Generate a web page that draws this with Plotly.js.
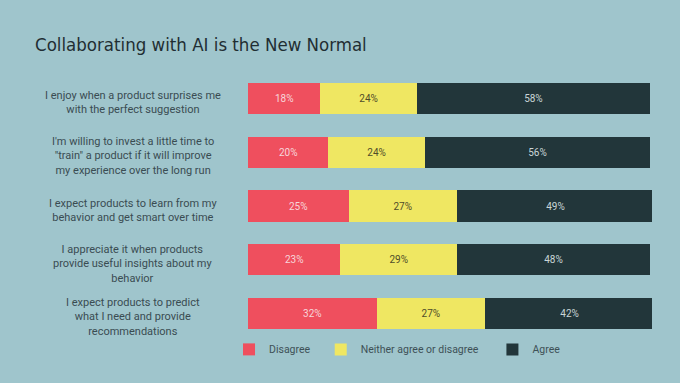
<!DOCTYPE html>
<html>
<head>
<meta charset="utf-8">
<script src="https://cdn.plot.ly/plotly-3.0.1.min.js"></script>
<style>html,body{margin:0;padding:0;background:#9fc5cc;}#chart{width:680px;height:383px;}</style>
</head>
<body>
<div id="chart"></div>
<script>
const categories = [
  "I enjoy when a product surprises me<br>with the perfect suggestion",
  "I'm willing to invest a little time to<br>\"train\" a product if it will improve<br>my experience over the long run",
  "I expect products to learn from my<br>behavior and get smart over time",
  "I appreciate it when products<br>provide useful insights about my<br>behavior",
  "I expect products to predict<br>what I need and provide<br>recommendations"
];
const disagree = [18, 20, 25, 23, 32];
const neither = [24, 24, 27, 29, 27];
const agree = [58, 56, 49, 48, 42];
const seriesNames = ["Disagree", "Neither agree or disagree", "Agree"];

const labelFont = "Roboto, 'DejaVu Sans', sans-serif";
const bg = "#9fc5cc";

function barTrace(vals, name, color, textColor, legendId) {
  return {
    type: "bar", orientation: "h",
    y: categories, x: vals, name: name,
    marker: {color: color, line: {width: 0}},
    text: vals.map(v => v + "%"),
    textposition: "inside", insidetextanchor: "middle",
    textfont: {family: labelFont, size: 10, color: textColor},
    hoverinfo: "none",
    legend: legendId,
    width: 0.58
  };
}

const data = [
  barTrace(disagree, seriesNames[0], "#ef4f5e", "#f7d5da", "legend"),
  barTrace(neither, seriesNames[1], "#efe762", "#4f4d2a", "legend2"),
  barTrace(agree, seriesNames[2], "#22363a", "#c9d5d7", "legend3")
];

const legendBase = {
  orientation: "h", yref: "paper", y: -0.035, yanchor: "middle", xanchor: "left",
  bgcolor: "rgba(0,0,0,0)", font: {family: labelFont, size: 10.5, color: "#3e5157"},
  itemwidth: 30, borderwidth: 0
};

const annotations = categories.map(c => ({
  xref: "paper", yref: "y", x: -0.285, y: c, xanchor: "center", yanchor: "middle",
  yshift: -4,
  text: c, showarrow: false, align: "center",
  font: {family: labelFont, size: 11, color: "#3a4c52"}
}));

const layout = {
  width: 680, height: 383,
  paper_bgcolor: bg, plot_bgcolor: bg,
  margin: {l: 248, r: 28, t: 72, b: 43},
  barmode: "stack", bargap: 0.42,
  title: {
    text: "Collaborating with AI is the New Normal",
    x: 35 / 680, xanchor: "left", xref: "container",
    y: 1 - 45 / 383, yanchor: "middle", yref: "container",
    font: {family: "'Liberation Sans Narrow', 'DejaVu Sans Condensed', sans-serif", size: 18.5, color: "#1f2e33"}
  },
  xaxis: {range: [0, 100.5], showgrid: false, zeroline: false, showticklabels: false, fixedrange: true},
  yaxis: {type: "category", autorange: "reversed", showgrid: false, zeroline: false, showticklabels: false, fixedrange: true},
  showlegend: true,
  legend: Object.assign({}, legendBase, {x: -0.047}),
  legend2: Object.assign({}, legendBase, {x: 0.18}),
  legend3: Object.assign({}, legendBase, {x: 0.605}),
  annotations: annotations
};

Plotly.newPlot("chart", data, layout, {displayModeBar: false, staticPlot: true});
</script>
</body>
</html>
